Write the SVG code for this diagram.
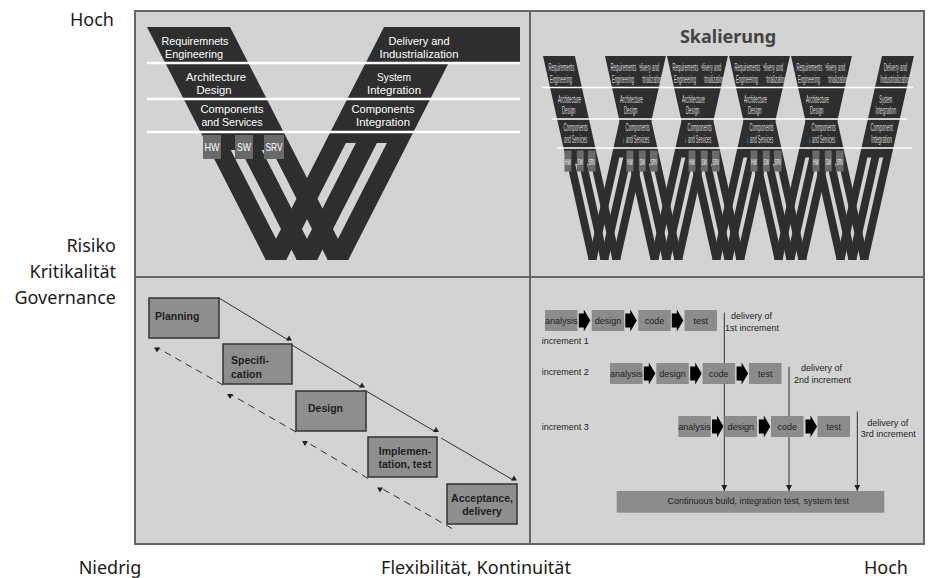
<svg xmlns="http://www.w3.org/2000/svg" xmlns:xlink="http://www.w3.org/1999/xlink" width="930" height="578" viewBox="0 0 930 578">
<style>
  .axis{font-family:"Noto Sans","Open Sans",sans-serif;font-size:18px;fill:#1a1a1a}
  .vt{font-family:"Liberation Sans",Arial,sans-serif;font-size:11.5px;fill:#fff;text-anchor:middle}
  .vts{font-family:"Liberation Sans",Arial,sans-serif;font-size:11.5px;fill:#d8d8d8;text-anchor:middle}
  .bx{font-family:"Liberation Sans",Arial,sans-serif;font-size:11px;fill:#fff;text-anchor:middle}
  .dark{fill:#2e2e2e}
  .tag{fill:#6a6a6a}
  .wline{stroke:#fff;stroke-width:2.5}
  .wline-s{stroke:#fff;stroke-width:1.5}
  .wf{fill:#8e8e8e;stroke:#333;stroke-width:1.5}
  .wft{font-family:"Liberation Sans",Arial,sans-serif;font-weight:bold;font-size:10.5px;fill:#1e1e1e}
  .flow{stroke:#333;stroke-width:1;fill:none}
  .back{stroke:#333;stroke-width:1;fill:none;stroke-dasharray:7 5}
  .ib{fill:#8c8c8c}
  .it{font-family:"Liberation Sans",Arial,sans-serif;font-size:9px;fill:#1e1e1e}
  .itc{font-family:"Liberation Sans",Arial,sans-serif;font-size:9px;fill:#1e1e1e;text-anchor:middle}
  .ba{fill:#000}
</style>
<defs>
  <marker id="tri-up" markerWidth="8" markerHeight="8" refX="4" refY="6" orient="0" markerUnits="userSpaceOnUse">
    <path d="M1,6 L7,6 L4,1 Z" fill="#222"/>
  </marker>
  <marker id="tri-down" markerWidth="8" markerHeight="8" refX="4" refY="1" orient="0" markerUnits="userSpaceOnUse">
    <path d="M1,1 L7,1 L4,6 Z" fill="#222"/>
  </marker>
  <marker id="head" markerWidth="8" markerHeight="8" refX="6" refY="3" orient="auto" markerUnits="userSpaceOnUse">
    <path d="M0,0 L6,3 L0,6 Z" fill="#222"/>
  </marker>
  <path id="barrow" d="M0,4 H5 V0 L11.5,11 L5,22 V18 H0 Z"/>

  <!-- the V: left arm splits into three strands, right arm likewise -->
  <g id="v-arms">
    <g class="dark">
      <polygon points="147,27 230,27 292.7,150 209.7,150"/>
      <polygon points="209.2,149 230.2,149 286.8,260 265.8,260"/>
      <polygon points="240.2,149 261.2,149 317.8,260 296.8,260"/>
      <polygon points="271.2,149 292.2,149 348.8,260 327.8,260"/>
      <polygon points="384,27 467,27 407.8,143 324.8,143"/>
      <polygon points="387.4,142 408.4,142 348.2,260 327.2,260"/>
      <polygon points="356.4,142 377.4,142 317.2,260 296.2,260"/>
      <polygon points="325.4,142 346.4,142 286.2,260 265.2,260"/>
    </g>
    <g class="tag">
      <rect x="203" y="135" width="18" height="24"/>
      <rect x="235" y="135" width="18" height="24"/>
      <rect x="264" y="135" width="20" height="24"/>
    </g>
    <text class="bx" x="212" y="151" textLength="15" lengthAdjust="spacingAndGlyphs">HW</text>
    <text class="bx" x="244" y="151" textLength="14" lengthAdjust="spacingAndGlyphs">SW</text>
    <text class="bx" x="274" y="151" textLength="17" lengthAdjust="spacingAndGlyphs">SRV</text>
  </g>

  <!-- reduced copy used for the scaling chain -->
  <g id="v-small">
    <use href="#v-arms"/>
    <g class="vts">
      <text><tspan x="195" y="44.5" textLength="67" lengthAdjust="spacingAndGlyphs">Requirements</tspan><tspan x="194" y="57.5" textLength="58" lengthAdjust="spacingAndGlyphs">Engineering</tspan></text>
      <text><tspan x="216" y="80.5" textLength="60" lengthAdjust="spacingAndGlyphs">Architecture</tspan><tspan x="214" y="93.5" textLength="35" lengthAdjust="spacingAndGlyphs">Design</tspan></text>
      <text><tspan x="232" y="113" textLength="63" lengthAdjust="spacingAndGlyphs">Components</tspan><tspan x="232" y="126" textLength="61" lengthAdjust="spacingAndGlyphs">and Services</tspan></text>
      <text><tspan x="419" y="44.5" textLength="61" lengthAdjust="spacingAndGlyphs">Delivery and</tspan><tspan x="419" y="57.5" textLength="79" lengthAdjust="spacingAndGlyphs">Industrialization</tspan></text>
      <text><tspan x="394" y="80.5" textLength="34" lengthAdjust="spacingAndGlyphs">System</tspan><tspan x="394" y="93.5" textLength="54" lengthAdjust="spacingAndGlyphs">Integration</tspan></text>
      <text><tspan x="383" y="113" textLength="58" lengthAdjust="spacingAndGlyphs">Component</tspan><tspan x="383" y="126" textLength="54" lengthAdjust="spacingAndGlyphs">Integration</tspan></text>
    </g>
  </g>
</defs>

<rect width="930" height="578" fill="#fff"/>

<!-- axis labels -->
<g id="axis-labels" class="axis">
  <text x="114" y="26" text-anchor="end">Hoch</text>
  <text x="116" y="252" text-anchor="end">Risiko</text>
  <text x="116" y="278" text-anchor="end">Kritikalität</text>
  <text x="116" y="304" text-anchor="end">Governance</text>
  <text x="110" y="574" text-anchor="middle">Niedrig</text>
  <text x="476" y="574" text-anchor="middle">Flexibilität, Kontinuität</text>
  <text x="886" y="574" text-anchor="middle">Hoch</text>
</g>

<!-- quadrant frame -->
<g id="frame">
  <rect x="135" y="11" width="789" height="533" fill="#d3d3d3" stroke="#666" stroke-width="2"/>
  <line x1="530" y1="11" x2="530" y2="544" stroke="#666" stroke-width="2"/>
  <line x1="135" y1="277" x2="924" y2="277" stroke="#666" stroke-width="2"/>
</g>

<!-- V-model -->
<g id="v-model">
  <use href="#v-arms"/>
  <rect class="dark" x="440" y="27" width="80" height="36"/>
  <g class="vt">
    <text><tspan x="195" y="44.5" textLength="67" lengthAdjust="spacingAndGlyphs">Requiremnets</tspan><tspan x="194" y="57.5" textLength="58" lengthAdjust="spacingAndGlyphs">Engineering</tspan></text>
    <text><tspan x="216" y="80.5" textLength="60" lengthAdjust="spacingAndGlyphs">Architecture</tspan><tspan x="214" y="93.5" textLength="35" lengthAdjust="spacingAndGlyphs">Design</tspan></text>
    <text><tspan x="232" y="113" textLength="63" lengthAdjust="spacingAndGlyphs">Components</tspan><tspan x="232" y="126" textLength="61" lengthAdjust="spacingAndGlyphs">and Services</tspan></text>
    <text><tspan x="419" y="44.5" textLength="61" lengthAdjust="spacingAndGlyphs">Delivery and</tspan><tspan x="419" y="57.5" textLength="79" lengthAdjust="spacingAndGlyphs">Industrialization</tspan></text>
    <text><tspan x="394" y="80.5" textLength="34" lengthAdjust="spacingAndGlyphs">System</tspan><tspan x="394" y="93.5" textLength="54" lengthAdjust="spacingAndGlyphs">Integration</tspan></text>
    <text><tspan x="383" y="113" textLength="63" lengthAdjust="spacingAndGlyphs">Components</tspan><tspan x="383" y="126" textLength="54" lengthAdjust="spacingAndGlyphs">Integration</tspan></text>
  </g>
  <g class="wline">
    <line x1="147" y1="63" x2="520" y2="63"/>
    <line x1="147" y1="99" x2="520" y2="99"/>
    <line x1="147" y1="132" x2="520" y2="132"/>
  </g>
</g>

<!-- scaling: five chained V's -->
<g id="scaling">
  <text x="728" y="43" text-anchor="middle" font-family="'Noto Sans','Open Sans',sans-serif" font-weight="bold" font-size="18" fill="#444">Skalierung</text>
  <g transform="matrix(0.384 0 0 0.8755 486.55 32.36)">
    <use href="#v-small"/>
    <use href="#v-small" x="161.46"/>
    <use href="#v-small" x="322.92"/>
    <use href="#v-small" x="484.38"/>
    <use href="#v-small" x="645.84"/>
  </g>
  <g class="wline-s">
    <line x1="542" y1="87.5" x2="913" y2="87.5"/>
    <line x1="552" y1="119" x2="907" y2="119"/>
    <line x1="557" y1="148" x2="912" y2="148"/>
  </g>
</g>

<!-- waterfall -->
<g id="wf-planning">
  <rect class="wf" x="149" y="298" width="70" height="40"/>
  <text class="wft" x="155" y="319.5">Planning</text>
</g>
<g id="wf-specification">
  <rect class="wf" x="223" y="344" width="69" height="40"/>
  <text class="wft"><tspan x="231" y="363.5">Specifi-</tspan><tspan x="231" y="377.5">cation</tspan></text>
</g>
<g id="wf-design">
  <rect class="wf" x="296" y="391" width="70" height="40"/>
  <text class="wft" x="308" y="412">Design</text>
</g>
<g id="wf-implementation">
  <rect class="wf" x="368" y="437" width="69" height="40"/>
  <text class="wft" text-anchor="middle"><tspan x="405" y="455">Implemen-</tspan><tspan x="405" y="467.5">tation, test</tspan></text>
</g>
<g id="wf-acceptance">
  <rect class="wf" x="447" y="484" width="70" height="40"/>
  <text class="wft" text-anchor="middle"><tspan x="482" y="502">Acceptance,</tspan><tspan x="482" y="515">delivery</tspan></text>
</g>

<g id="connectors">
  <g class="flow" marker-end="url(#tri-up)">
    <line x1="219" y1="298" x2="289" y2="340.5"/>
    <line x1="292" y1="345" x2="362" y2="387.5"/>
    <line x1="366" y1="391" x2="436" y2="432"/>
    <line x1="441" y1="438" x2="514" y2="480.5"/>
  </g>
  <g class="back" marker-end="url(#tri-down)">
    <line x1="452" y1="528.5" x2="380" y2="487.5"/>
    <line x1="368" y1="478.5" x2="305" y2="441"/>
    <line x1="296" y1="432" x2="230" y2="394"/>
    <line x1="223" y1="385" x2="157" y2="347.5"/>
  </g>
  <g class="flow" marker-end="url(#head)">
    <line x1="724.3" y1="312.7" x2="724.3" y2="491"/>
    <line x1="789" y1="366.7" x2="789" y2="491"/>
    <line x1="857.3" y1="411.7" x2="857.3" y2="491"/>
  </g>
</g>

<!-- incremental delivery -->
<g id="increment-1">
  <g class="ib">
    <rect x="545" y="310" width="32.5" height="21"/>
    <rect x="591.7" y="310" width="32.5" height="21"/>
    <rect x="638.3" y="310" width="32.5" height="21"/>
    <rect x="684.5" y="310" width="32.5" height="21"/>
  </g>
  <g class="ba">
    <use href="#barrow" x="578.8" y="309.5"/>
    <use href="#barrow" x="625.3" y="309.5"/>
    <use href="#barrow" x="671.8" y="309.5"/>
  </g>
  <text class="itc" x="561.2" y="323.5">analysis</text>
  <text class="itc" x="608" y="323.5">design</text>
  <text class="itc" x="654.5" y="323.5">code</text>
  <text class="itc" x="700.7" y="323.5">test</text>
  <text class="it" x="541.7" y="343.5">increment 1</text>
</g>
<g id="increment-2">
  <g class="ib">
    <rect x="610" y="363" width="32.5" height="21"/>
    <rect x="656.3" y="363" width="32.5" height="21"/>
    <rect x="702.6" y="363" width="32.5" height="21"/>
    <rect x="749" y="363" width="32.5" height="21"/>
  </g>
  <g class="ba">
    <use href="#barrow" x="643.8" y="362.5"/>
    <use href="#barrow" x="690.2" y="362.5"/>
    <use href="#barrow" x="736.6" y="362.5"/>
  </g>
  <text class="itc" x="626.2" y="376.5">analysis</text>
  <text class="itc" x="672.5" y="376.5">design</text>
  <text class="itc" x="718.8" y="376.5">code</text>
  <text class="itc" x="765.2" y="376.5">test</text>
  <text class="it" x="541.7" y="374.5">increment 2</text>
</g>
<g id="increment-3">
  <g class="ib">
    <rect x="678.3" y="416" width="32.5" height="21"/>
    <rect x="724.5" y="416" width="32.5" height="21"/>
    <rect x="771" y="416" width="32.5" height="21"/>
    <rect x="817.5" y="416" width="32.5" height="21"/>
  </g>
  <g class="ba">
    <use href="#barrow" x="712" y="415.5"/>
    <use href="#barrow" x="758.8" y="415.5"/>
    <use href="#barrow" x="805.5" y="415.5"/>
  </g>
  <text class="itc" x="694.5" y="429.5">analysis</text>
  <text class="itc" x="740.7" y="429.5">design</text>
  <text class="itc" x="787.2" y="429.5">code</text>
  <text class="itc" x="833.7" y="429.5">test</text>
  <text class="it" x="541.7" y="430">increment 3</text>
</g>
<g id="delivery-labels">
  <text class="it"><tspan x="731" y="318.5">delivery of</tspan><tspan x="725" y="331">1st increment</tspan></text>
  <text class="it"><tspan x="801" y="370.7">delivery of</tspan><tspan x="794" y="383.3">2nd increment</tspan></text>
  <text class="it"><tspan x="867.3" y="426">delivery of</tspan><tspan x="860.7" y="436.7">3rd increment</tspan></text>
</g>
<g id="continuous-build">
  <rect class="ib" x="616.7" y="491" width="267.6" height="21.7"/>
  <text class="itc" x="758.3" y="504">Continuous build, integration test, system test</text>
</g>
</svg>
